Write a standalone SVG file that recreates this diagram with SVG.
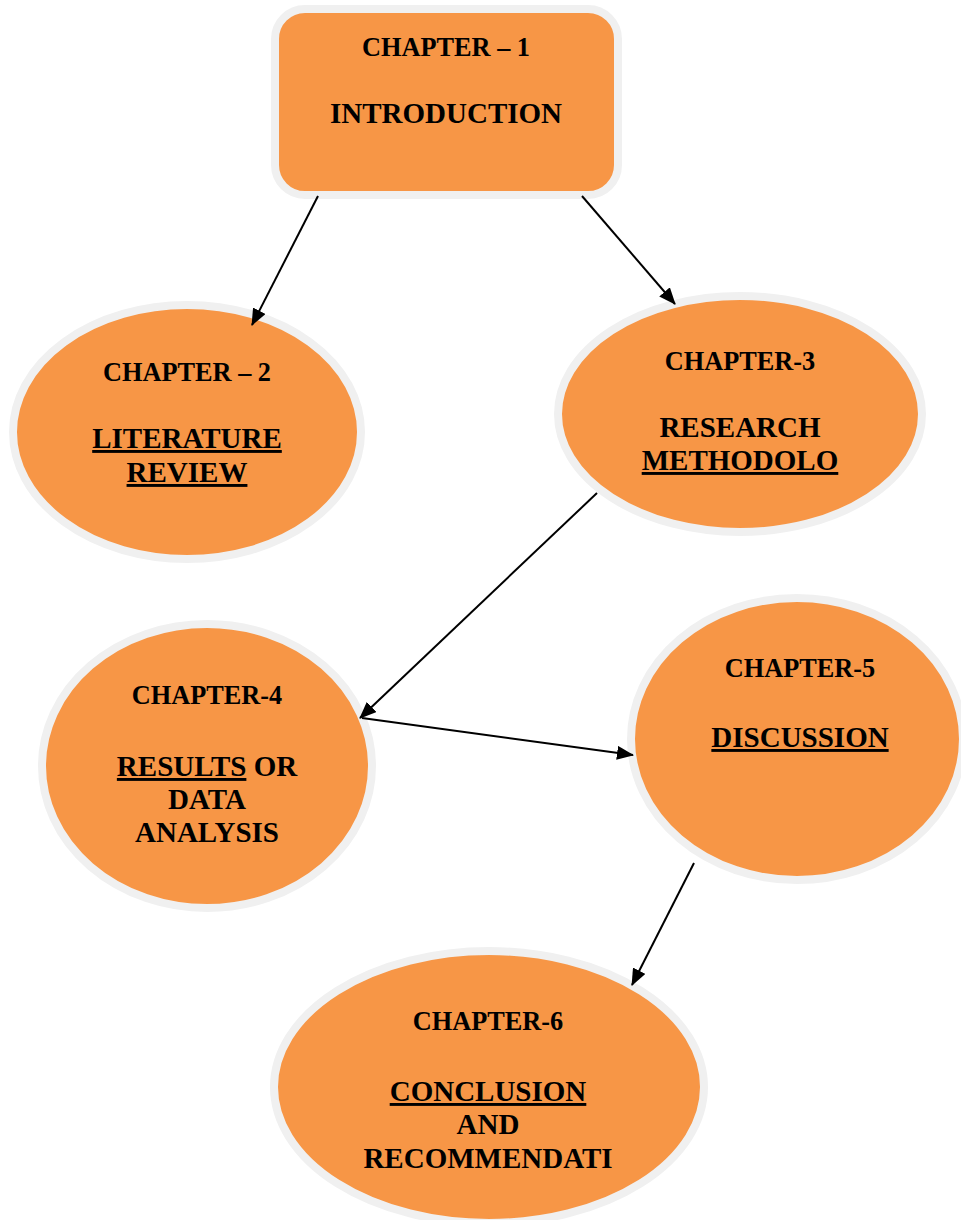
<svg xmlns="http://www.w3.org/2000/svg" width="961" height="1220" viewBox="0 0 961 1220">
<style>
.n{fill:#F79646;stroke:#F0F0F0;stroke-width:8}
.t{font-family:"Liberation Serif","Times New Roman",serif;font-weight:bold;fill:#000;text-anchor:middle}
.c{font-size:26.3px}
.m{font-size:29px}
.u{text-decoration:underline}
.e{stroke:#000;stroke-width:2;fill:none;marker-end:url(#a)}
</style>
<defs>
<marker id="a" markerUnits="userSpaceOnUse" markerWidth="18" markerHeight="14" refX="16" refY="7" orient="auto">
<path d="M0,0 L17,7 L0,14 Z" fill="#000"/>
</marker>
</defs>
<rect width="961" height="1220" fill="#fff"/>
<g id="n1">
<rect class="n" x="275" y="9" width="343" height="186" rx="30"/>
<text class="t c" x="446" y="56">CHAPTER – 1</text>
<text class="t m" x="446" y="123">INTRODUCTION</text>
</g>
<g id="n2">
<ellipse class="n" cx="187" cy="432" rx="174" ry="127"/>
<text class="t c" x="187" y="381">CHAPTER – 2</text>
<text class="t m u" x="187" y="448">LITERATURE</text>
<text class="t m u" x="187" y="482">REVIEW</text>
</g>
<g id="n3">
<ellipse class="n" cx="740" cy="414" rx="182" ry="118"/>
<text class="t c" x="740" y="370">CHAPTER-3</text>
<text class="t m" x="740" y="437">RESEARCH</text>
<text class="t m u" x="740" y="470">METHODOLO</text>
</g>
<g id="n4">
<ellipse class="n" cx="207" cy="766" rx="165" ry="142"/>
<text class="t c" x="207" y="704">CHAPTER-4</text>
<text class="t m" x="207" y="776"><tspan class="u">RESULTS</tspan> OR</text>
<text class="t m" x="207" y="809">DATA</text>
<text class="t m" x="207" y="842">ANALYSIS</text>
</g>
<g id="n5">
<ellipse class="n" cx="797" cy="739" rx="166" ry="141"/>
<text class="t c" x="800" y="677">CHAPTER-5</text>
<text class="t m u" x="800" y="747">DISCUSSION</text>
</g>
<g id="n6">
<ellipse class="n" cx="489" cy="1087" rx="215" ry="136"/>
<text class="t c" x="488" y="1030">CHAPTER-6</text>
<text class="t m u" x="488" y="1101">CONCLUSION</text>
<text class="t m" x="488" y="1134">AND</text>
<text class="t m" x="488" y="1168">RECOMMENDATI</text>
</g>
<g id="connectors">
<line class="e" x1="318" y1="196" x2="252" y2="325"/>
<line class="e" x1="582" y1="196" x2="675" y2="304"/>
<line class="e" x1="597" y1="493" x2="360" y2="718"/>
<line class="e" x1="362" y1="718" x2="633" y2="755"/>
<line class="e" x1="694" y1="863" x2="632" y2="985"/>
</g>
</svg>
